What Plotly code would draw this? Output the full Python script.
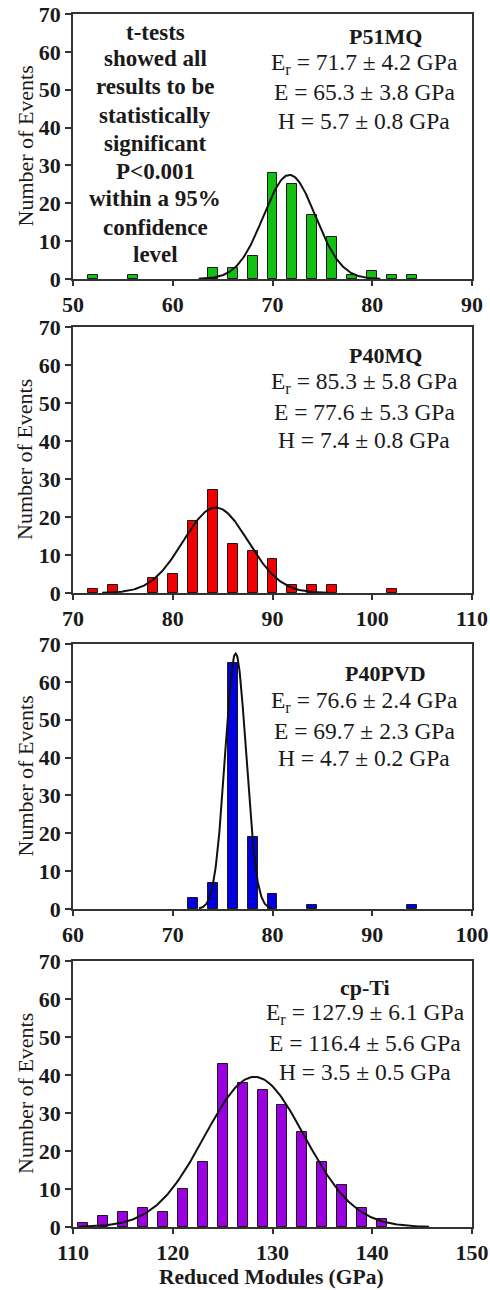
import numpy as np
import plotly.graph_objects as go

W, H = 490, 1290

# ---------------- data ----------------
p51_x = [52, 56, 64, 66, 68, 70, 72, 74, 76, 78, 80, 82, 84]
p51_y = [1, 1, 3, 3, 6, 28, 25, 17, 11, 1, 2, 1, 1]

p40mq_x = [72, 74, 78, 80, 82, 84, 86, 88, 90, 92, 94, 96, 102]
p40mq_y = [1, 2, 4, 5, 19, 27, 13, 11, 9, 2, 2, 2, 1]

p40pvd_x = [72, 74, 76, 78, 80, 84, 94]
p40pvd_y = [3, 7, 65, 19, 4, 1, 1]

cpti_x = [111, 113, 115, 117, 119, 121, 123, 125, 127, 129, 131, 133, 135, 137, 139, 141]
cpti_y = [1, 3, 4, 5, 4, 10, 17, 43, 38, 36, 32, 25, 17, 11, 5, 2]

# fitted normal curves: mean, sd, peak height (as drawn)
fit_mean = [71.7, 84.3, 76.3, 128.2]
fit_sd = [2.6, 3.25, 1.05, 5.0]
fit_peak = [27.5, 22.5, 67.5, 39.5]

x_ranges = [[50, 90], [70, 110], [60, 100], [110, 150]]
names = ["P51MQ", "P40MQ", "P40PVD", "cp-Ti"]
er_txt = ["71.7 ± 4.2", "85.3 ± 5.8", "76.6 ± 2.4", "127.9 ± 6.1"]
e_txt = ["65.3 ± 3.8", "77.6 ± 5.3", "69.7 ± 2.3", "116.4 ± 5.6"]
h_txt = ["5.7 ± 0.8", "7.4 ± 0.8", "4.7 ± 0.2", "3.5 ± 0.5"]
note_lines = ["t-tests", "showed all", "results to be", "statistically",
              "significant", "P<0.001", "within a 95%", "confidence", "level"]

bar_colors = ["#12C012", "#F00000", "#0000E0", "#9A00E0"]

# ---------------- layout helpers ----------------
panels_px = [(14, 279), (327, 593), (644, 909), (961, 1227)]
x_left, x_right = 73, 472


def px_x(x):
    return x / W


def px_y(y):
    return 1 - y / H


SERIF = "Liberation Serif"
INK = "#1a1a1a"
fig = go.Figure()

datasets = [(p51_x, p51_y), (p40mq_x, p40mq_y), (p40pvd_x, p40pvd_y), (cpti_x, cpti_y)]
annotations = []
layout_axes = {}
for i, ((bx, by), (top, bot)) in enumerate(zip(datasets, panels_px)):
    k = "" if i == 0 else str(i + 1)
    xa, ya = "x" + k, "y" + k
    fig.add_trace(go.Bar(x=bx, y=by, width=1.0, xaxis=xa, yaxis=ya,
                         marker=dict(color=bar_colors[i], line=dict(color="#1a1a1a", width=1)),
                         showlegend=False))
    m, s, pk = fit_mean[i], fit_sd[i], fit_peak[i]
    cx = np.linspace(m - 3.5 * s, m + 3.5 * s, 200)
    cy = pk * np.exp(-0.5 * ((cx - m) / s) ** 2)
    fig.add_trace(go.Scatter(x=cx, y=cy, mode="lines", xaxis=xa, yaxis=ya,
                             line=dict(color="#111111", width=2), showlegend=False))
    axis_common = dict(showgrid=False, zeroline=False, showline=True, mirror=True,
                       automargin=False,
                       linecolor="#333333", linewidth=1.5, ticks="outside",
                       tickcolor="#333333", tickwidth=1.5,
                       tickfont=dict(family=SERIF, size=22, color=INK, weight="bold"))
    layout_axes["xaxis" + k] = dict(axis_common, range=x_ranges[i], dtick=10, ticklen=5,
                                    domain=[px_x(x_left), px_x(x_right)], anchor=ya)
    layout_axes["yaxis" + k] = dict(axis_common, range=[0, 70], dtick=10, ticklen=6,
                                    domain=[px_y(bot), px_y(top)], anchor=xa)

    # y-axis title
    annotations.append(dict(x=px_x(25), y=px_y((top + bot) / 2), xref="paper", yref="paper",
                            text="Number of Events", textangle=-90, showarrow=False,
                            font=dict(family=SERIF, size=22, color=INK),
                            xanchor="center", yanchor="middle"))

# stats text
title_pos = [(385, 36), (385, 355), (385, 673), (365, 987)]
stat_cx = [364, 364, 364, 365]
stat_ys = [(64, 92, 121), (383, 412, 440), (702, 731, 758), (1014, 1043, 1072)]
for i in range(4):
    tx, ty = title_pos[i]
    annotations.append(dict(x=px_x(tx), y=px_y(ty), xref="paper", yref="paper",
                            text="<b>" + names[i] + "</b>", showarrow=False,
                            font=dict(family=SERIF, size=22, color=INK),
                            xanchor="center", yanchor="middle"))
    lines = ["E<sub>r</sub> = " + er_txt[i] + " GPa",
             "E = " + e_txt[i] + " GPa",
             "H = " + h_txt[i] + " GPa"]
    for ln, yy in zip(lines, stat_ys[i]):
        annotations.append(dict(x=px_x(stat_cx[i]), y=px_y(yy), xref="paper", yref="paper",
                                text=ln, showarrow=False,
                                font=dict(family=SERIF, size=23.5, color=INK),
                                xanchor="center", yanchor="middle"))

# note text in panel 1
note_ys = [32, 59, 87, 115, 143, 171, 199, 227, 254]
for ln, yy in zip(note_lines, note_ys):
    annotations.append(dict(x=px_x(155), y=px_y(yy), xref="paper", yref="paper",
                            text="<b>" + ln + "</b>", showarrow=False,
                            font=dict(family=SERIF, size=23, color=INK),
                            xanchor="center", yanchor="middle"))

# x-axis title
annotations.append(dict(x=px_x(271), y=px_y(1277), xref="paper", yref="paper",
                        text="<b>Reduced Modules (GPa)</b>", showarrow=False,
                        font=dict(family=SERIF, size=21.5, color=INK),
                        xanchor="center", yanchor="middle"))

fig.update_layout(width=W, height=H, margin=dict(l=0, r=0, t=0, b=0, autoexpand=False),
                  paper_bgcolor="white", plot_bgcolor="white",
                  annotations=annotations, bargap=0, **layout_axes)

fig.write_html("out.html")
